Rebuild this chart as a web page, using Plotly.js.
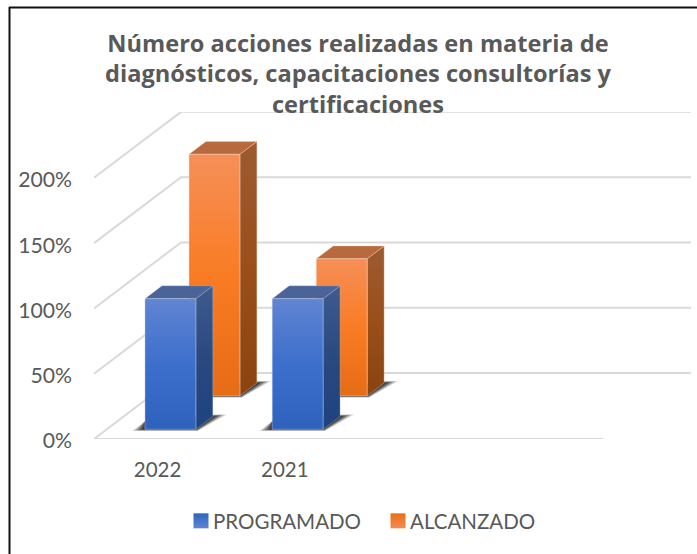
<!DOCTYPE html>
<html>
<head>
<meta charset="utf-8">
<script src="https://cdn.plot.ly/plotly-3.0.1.min.js"></script>
<style>html,body{margin:0;padding:0;background:#fff}#chart{width:697px;height:554px}</style>
</head>
<body>
<div id="chart"></div>
<script>
// Data
const categories = ['2022', '2021'];
const programado = [100, 100];
const alcanzado = [185, 105];
const yTicks = [0, 50, 100, 150, 200];
const slotCount = 4;
const titleLines = ['Número acciones realizadas en materia de', 'diagnósticos, capacitaciones consultorías y', 'certificaciones'];

// Oblique projection: one unit of depth moves a point along both axes
const dX = 0.684, dY = 50.5;
const px = (c, d) => c + d * dX;
const py = (v, d) => v + d * dY;
const barL = 0.3, barW = 0.4, barD = 0.195;
const uX = 1 / 127.25, uY = 1 / 1.306; // one screen pixel in axis units, for the shadow blur

const traces = [];
const grid = {type: 'scatter', mode: 'lines', hoverinfo: 'skip', showlegend: false,
  line: {color: '#d9d9d9', width: 2}};

// Walls and floor gridlines
const gx = [], gy = [];
yTicks.forEach((t, i) => {
  gx.push(px(0, 0), px(0, 1));
  gy.push(py(t, 0), py(t, 1));
  gx.push(px(0, 1), 4.692, null);
  gy.push(py(t, 1), py(t, 1), null);
});
gx.push(0, slotCount);
gy.push(0, 0);
traces.push(Object.assign({}, grid, {x: gx, y: gy}));

function poly(xs, ys, fill, extra) {
  return Object.assign({
    type: 'scatter', mode: 'lines', x: xs.concat(xs[0]), y: ys.concat(ys[0]),
    fill: 'toself', hoverinfo: 'skip', showlegend: false,
    line: {color: 'rgba(255,255,255,0)', width: 0}
  }, typeof fill === 'string' ? {fillcolor: fill} : {fillgradient: fill}, extra || {});
}
function vertical(stops, lo, hi) {
  return {type: 'vertical', start: lo, stop: hi,
    colorscale: stops.map((c, i) => [i / (stops.length - 1), c])};
}

const seriesList = [
  {name: 'ALCANZADO', vals: alcanzado, depth: 0.653,
    front: ['#e66c15', '#f97c24', '#f68f58'], side: ['#8a440f', '#9a4f1b', '#9d5a30'], top: '#b8693d', edge: 'rgba(250,215,195,0.7)'},
  {name: 'PROGRAMADO', vals: programado, depth: 0.147,
    front: ['#2e62bd', '#3d6fcc', '#6085d2'], side: ['#1e437f', '#29497f', '#3f5b8f'], top: '#4a6398', edge: 'rgba(200,215,240,0.6)'}
];

seriesList.forEach(s => {
  s.vals.forEach((v, i) => {
    const x0 = px(i + barL, s.depth), x1 = px(i + barL + barW, s.depth);
    const b = py(0, s.depth), t = py(v, s.depth);
    const ox = barD * dX, oy = barD * dY;
    // soft shadow on the floor, built from nested translucent layers
    [[1, 0.16], [0.8, 0.24], [0.6, 0.30], [0.4, 0.36], [0.2, 0.38]].forEach(([g, a]) => {
      traces.push(poly(
        [x0 - 13 * g * uX, x1 + 2 * g * uX, x1 + ox + 14 * g * uX, x1 + ox, x0],
        [b - 1.6 * g * uY, b - 1.6 * g * uY, b + oy + 2 * g * uY, b + oy + 2 * g * uY, b + 8 * uY],
        `rgba(20,20,20,${a})`));
    });
    // side face
    traces.push(poly([x1, x1 + ox, x1 + ox, x1], [b, b + oy, t + oy, t],
      vertical(s.side, b, t + oy), {line: {color: s.edge, width: 0.5}}));
    // top face
    traces.push(poly([x0, x1, x1 + ox, x0 + ox], [t, t, t + oy, t + oy], s.top,
      {line: {color: s.edge, width: 0.5}}));
    // front face
    traces.push(poly([x0, x1, x1, x0], [b, b, t, t],
      vertical(s.front, b, t), {line: {color: s.edge, width: 0.7}}));
  });
});

// Legend entries
[{name: 'PROGRAMADO', c: '#2f64c0', g: '#5f85d2'}, {name: 'ALCANZADO', c: '#ea6f18', g: '#f58b50'}].forEach(e => {
  traces.push({type: 'scatter', mode: 'markers', x: [null], y: [null], name: e.name, hoverinfo: 'skip',
    marker: {symbol: 'square', size: 15, color: e.c, line: {width: 0}, gradient: {type: 'vertical', color: e.g}}});
});

const L = 94, R = 691, T = 112, B = 439;
const sx = p => (p - L) / (R - L), sy = p => (B - p) / (B - T);
const layout = {
  width: 697, height: 554,
  margin: {l: L, r: 697 - R, t: T, b: 554 - B, pad: 0},
  paper_bgcolor: '#ffffff', plot_bgcolor: 'rgba(0,0,0,0)',
  font: {family: 'Lato, sans-serif', size: 20.5, color: '#595959'},
  title: {
    text: titleLines.join('<br>'),
    font: {family: '"Open Sans", sans-serif', size: 23.6, color: '#595959', weight: 700},
    xref: 'paper', x: sx(358), xanchor: 'center',
    yref: 'container', y: 1 - 51.5 / 554, yanchor: 'top', pad: {t: 0, b: 0, l: 0, r: 0}
  },
  xaxis: {
    range: [0, (R - L) / 127.25], tickmode: 'array',
    tickvals: categories.map((c, i) => i + 0.5), ticktext: categories,
    showgrid: false, zeroline: false, showline: false, ticks: '',
    ticklabelstandoff: 16, fixedrange: true, tickfont: {size: 20.5}
  },
  yaxis: {
    range: [0, (B - T) / 1.306], tickmode: 'array',
    tickvals: yTicks, ticktext: yTicks.map(t => t + '%'),
    showgrid: false, zeroline: false, showline: false, ticks: '',
    ticklabelstandoff: 21, ticklabelshift: 2, fixedrange: true, tickfont: {size: 21.2}
  },
  legend: {
    orientation: 'h', xref: 'paper', yref: 'paper',
    x: sx(173), xanchor: 'left', y: sy(501), yanchor: 'top',
    traceorder: 'normal', font: {size: 20.5, color: '#595959'}, itemclick: false, itemdoubleclick: false,
    entrywidth: 152, entrywidthmode: 'pixels',
    bgcolor: 'rgba(0,0,0,0)'
  },
  shapes: [
    {type: 'line', xref: 'paper', yref: 'paper', x0: sx(9), x1: sx(697), y0: sy(7.5), y1: sy(7.5), line: {color: '#111111', width: 2}},
    {type: 'line', xref: 'paper', yref: 'paper', x0: sx(9.5), x1: sx(9.5), y0: sy(7), y1: sy(554), line: {color: '#111111', width: 2}}
  ]
};
Plotly.newPlot('chart', traces, layout, {displayModeBar: false, staticPlot: true}).then(() => {
  // bring each legend swatch closer to its label
  document.querySelectorAll('#chart .legend .legendpoints').forEach(g => {
    g.setAttribute('transform', 'translate(8,0)');
  });
});
</script>
</body>
</html>
